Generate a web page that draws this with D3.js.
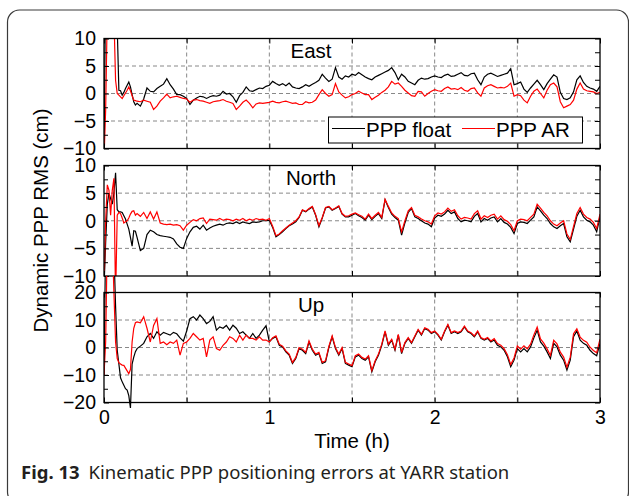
<!DOCTYPE html>
<html>
<head>
<meta charset="utf-8">
<script src="https://d3js.org/d3.v7.min.js"></script>
<style>
  body { margin: 0; background: #fff; }
  svg { display: block; }
</style>
</head>
<body>
<div id="chartHere"></div>
<script>

// sample times (h): every 0.01 h up to 0.2 h, then every 0.02 h
var hours = d3.range(0, 0.2001, 0.01).concat(d3.range(0.22, 3.0001, 0.02));

// values in cm
var eastFloat = [
  -12, 20, 25, 25, 25, 25, 25, 25, 12, 0.6, 0.5,
  -0.3, 0.2, 0.9, 1.5, 2.1, 1.2, -0.2, -1.5, -2.1, -1.8,
  -2.3, -1.0, 1.0, 0.4, 0.3, 0.9, 1.3, 1.7, 2.7, 1.6,
  0.8, -0.2, -0.2, -0.5, -0.9, -2.0, -1.2, -0.8, -0.5, -0.6,
  -0.9, -0.6, -0.4, -0.5, -0.3, 0.4, -0.1, 0.0, -0.6, -1.6,
  -0.4, 0.2, 1.2, 0.5, 0.4, 0.7, 1.0, 0.9, 1.3, 1.5,
  2.2, 1.8, 1.5, 1.8, 1.4, 1.9, 1.2, 1.0, 0.9, 1.2,
  1.6, 1.3, 1.7, 2.0, 2.4, 3.5, 2.8, 2.2, 2.6, 4.7,
  3.0, 2.6, 3.2, 3.0, 3.5, 3.3, 3.8, 3.4, 3.0, 2.7,
  2.5, 3.0, 3.3, 3.6, 3.9, 4.2, 4.7, 3.8, 2.5, 3.5,
  3.0, 2.2, 1.9, 1.6, 2.4, 2.8, 2.6, 2.7, 3.0, 3.2,
  3.0, 2.9, 3.3, 3.5, 3.1, 3.2, 3.5, 3.8, 3.3, 3.2,
  3.6, 3.7, 2.5, 1.6, 3.0, 3.5, 3.7, 3.4, 3.1, 3.3,
  3.5, 3.7, 4.5, 1.6, 1.8, 2.1, 0.8, 0.2, 1.0, 1.7,
  2.4, 1.6, 0.7, 1.8, 2.6, 3.4, 3.0, 0.2, -0.9, -1.1,
  -0.8, 0.3, 2.5, 3.2, 2.0, 1.3, 1.0, 0.8, 0.4, 1.3
];
var eastAR = [
  -12, -3, 15, 25, 25, 25, 14, 2.4, 0.0, -0.3, -0.6,
  -0.9, -0.4, 0.1, 0.6, 1.2, 0.5, -0.4, -1.2, -1.3, -1.4,
  -1.5, -1.2, -1.4, -1.6, -2.9, -2.3, -1.4, -0.8, -0.1, -0.8,
  -0.6, -0.5, -0.7, -0.9, -1.0, -1.6, -1.2, -1.1, -1.3, -1.4,
  -1.6, -1.8, -1.5, -1.4, -1.3, -1.1, -1.4, -1.6, -1.8, -2.9,
  -2.3, -1.6, -1.2, -1.8, -2.6, -1.9, -1.7, -1.8, -1.7, -1.6,
  -1.4, -1.6, -1.7, -1.5, -1.4, -1.6, -1.8, -1.7, -2.0, -2.0,
  -1.5, -1.7, -1.6, -1.2, -0.2, 0.7, 0.0, -0.5, -0.2, 1.8,
  0.3, -0.3, -0.8, -0.6, -0.2, 0.0, 0.4, 0.1, -0.2, -0.2,
  -1.1, -0.7, -0.3, 0.2, 0.6, 1.2, 2.2, 1.7, 1.9, 1.3,
  0.6, 0.1, -0.4, -0.5, 0.4, 0.3, -0.5, 0.0, 0.4, 0.7,
  0.5, 0.4, 0.9, 1.2, 0.8, 0.9, 0.7, 1.1, 0.6, 0.4,
  0.9, 1.0, 0.1, -0.5, 1.0, 1.4, 1.6, 1.3, 1.0, 1.1,
  1.0, 1.3, 1.9, -0.5, -0.2, -0.4, -1.2, -1.7, -0.5, 0.4,
  0.8, 0.0, -0.8, 0.6, 1.6, 1.9, 1.2, -1.5, -2.6, -2.3,
  -2.0, -1.2, 0.8, 1.9, 0.8, 0.5, 0.4, 0.3, 0.0, 0.2
];
var northFloat = [
  -12, -4, 3, 5, 4, 3, 5, 8.7, 2, 1.6, 1.6,
  1.5, 0.9, 0.3, -0.6, -1.5, -3.0, -4.6, -1.8, -1.9, -3.0,
  -5.4, -5.0, -2.5, -1.7, -2.0, -2.5, -2.7, -2.8, -2.9, -3.0,
  -3.3, -4.2, -4.8, -5.0, -3.2, -2.0, -1.2, -1.0, -1.5, -0.8,
  -1.7, -1.3, -1.0, -0.8, -0.6, -0.8, -0.5, -0.4, -0.5, -0.2,
  -0.5, -0.2, -0.4, -0.5, -0.2, -0.3, -0.2, 0.0, 0.0, 0.1,
  -1.2, -2.9, -2.5, -2.0, -1.4, -0.9, -0.6, -0.2, 0.6, 1.9,
  1.6, 2.1, 2.5, 1.0, -1.1, 0.5, 2.3, 2.5, 1.9, 2.2,
  2.6, 1.2, 0.7, 0.7, 1.0, 1.3, 0.9, 0.6, 0.1, 1.0,
  0.2, 0.8, 1.3, 0.4, 3.8, 2.4, 1.2, 0.6, 0.1, -2.6,
  -0.4, 1.5, 2.2, 0.7, 0.4, 0.0, -0.4, -0.6, -1.1, 0.5,
  1.0, 0.8, 1.2, 1.9, 1.3, 1.6, 0.4, -0.2, 0.1, 0.0,
  -0.2, 0.8, 1.3, -0.2, 0.4, 0.1, 0.5, 0.7, -0.2, 0.4,
  -0.3, -0.6, -1.2, -2.3, -0.5, -0.2, -0.3, -0.5, 0.1, 0.7,
  2.5, 1.8, 1.0, 0.4, -0.5, -1.1, -1.4, -0.9, -0.5, -2.9,
  -3.8, -1.5, 0.8, 1.9, 0.7, 0.1, -0.2, -0.8, -2.0, 0.7
];
var northAR = [
  -12, 0, 6.5, 5.5, 1.0, 5.5, 7.7, -14, 1.0, 1.5, 1.3,
  0.5, -0.4, -0.2, 0.0, 0.5, 1.2, 1.7, 1.8, 1.0, 1.3,
  0.8, 1.5, 0.4, 1.6, 0.3, 1.6, -0.4, -0.6, -0.7, -0.6,
  -0.8, -0.7, -0.9, -1.7, -0.8, -0.3, 0.2, 0.0, 0.4, 0.5,
  -0.5, 0.3, 0.2, 0.1, 0.4, 0.1, 0.3, 0.2, 0.0, 0.3,
  0.1, 0.4, 0.0, 0.3, 0.1, 0.4, 0.2, 0.3, 0.1, 0.4,
  -1.0, -2.7, -2.4, -1.8, -1.3, -0.8, -0.4, 0.0, 0.7, 2.0,
  1.7, 2.2, 2.6, 1.1, -0.9, 0.6, 2.4, 2.6, 2.0, 2.3,
  2.7, 1.3, 0.8, 0.9, 1.2, 1.4, 1.1, 0.8, 0.3, 1.2,
  0.4, 1.0, 1.5, 0.6, 3.9, 2.6, 1.4, 0.8, 0.4, -2.0,
  0.0, 1.8, 2.4, 1.0, 0.7, 0.3, 0.0, -0.2, -0.6, 0.9,
  1.4, 1.2, 1.6, 2.3, 1.7, 2.0, 0.9, 0.3, 0.6, 0.5,
  0.3, 1.3, 1.8, 0.3, 0.9, 0.6, 1.0, 1.2, 0.3, 0.9,
  0.2, -0.1, -0.7, -1.8, 0.0, 0.3, 0.2, 0.0, 0.6, 1.2,
  3.0, 2.3, 1.5, 0.9, 0.0, -0.6, -0.9, -0.4, 0.0, -2.4,
  -3.4, -1.0, 1.3, 2.4, 1.2, 0.6, 0.3, -0.3, -1.4, 1.2
];
var upFloat = [
  -10, 40, 40, 40, 40, 40, 35, 15, -1, -6, -11,
  -12.5, -13.7, -15, -15.5, -17.5, -22, -6, -3.5, -1.5, -0.4,
  0.5, 1.5, 3.9, 5.1, 3.3, 5.7, 4.5, 5.5, 5.0, 4.5,
  5.5, 5.0, 3.5, 2.3, 6.0, 10.5, 11.2, 10.0, 11.8, 10.5,
  8.7, 9.5, 11.2, 6.3, 7.5, 7.0, 8.0, 6.3, 8.1, 7.0,
  5.1, 5.7, 4.5, 3.3, 5.1, 3.3, 4.5, 6.3, 7.9, 2.1,
  3.3, 3.9, 0.8, 0.2, -1.6, -2.8, -5.8, -4.0, -0.4, -1.0,
  -2.2, 2.0, -1.0, -2.8, -2.2, -5.8, -5.2, 0.0, 3.9, -0.4,
  -2.8, -0.4, -5.8, -6.4, -7.0, -3.4, -2.8, -4.0, -4.6, -3.4,
  -8.8, -5.2, -2.8, 0.8, 5.7, 0.8, 2.7, -1.0, 4.5, -2.2,
  1.5, 3.3, 1.5, 3.9, 6.3, 4.5, 6.9, 6.3, 5.1, 5.7,
  4.5, 2.7, 5.7, 8.1, 5.1, 5.7, 5.1, 5.7, 7.5, 5.7,
  5.1, 3.9, 5.7, 3.3, 2.7, 3.3, 2.0, 2.7, 0.8, 0.2,
  -1.0, -3.4, -7.0, -4.6, -0.4, -1.6, -0.4, -1.6, 0.2, 3.5,
  6.3, 2.0, 0.5, -1.6, -4.0, 1.5, 0.2, -2.8, -4.6, -8.2,
  -4.6, 3.9, 6.0, 2.7, 1.5, 0.8, -1.0, -2.2, -3.0, 1.5
];
var upAR = [
  -10, 2, 40, 40, 40, 40, 20, 2, -4, -5.5, -6,
  -6.4, -6.5, -7.5, -8.5, -9.5, -8, 2, 7, 9, 9.3,
  9.0, 11.2, 7.0, 2.0, 8.0, 10.5, 1.5, 2.0, 1.0, 2.0,
  1.5, 2.7, -2.8, 1.5, 2.0, 3.3, 5.1, 3.9, 2.7, 3.3,
  -3.4, 2.7, 3.9, -0.4, -1.0, 0.8, 2.0, 3.9, 3.3, 2.0,
  4.5, 2.7, 4.5, 3.3, 3.3, 2.7, 3.9, 2.7, 2.7, 2.0,
  3.6, 4.2, 1.2, 0.5, -1.2, -2.4, -5.4, -3.6, 0.0, -0.6,
  -1.8, 2.4, -0.6, -2.4, -1.8, -5.4, -4.8, 0.4, 4.2, 0.0,
  -2.4, 0.0, -5.4, -6.0, -6.6, -3.0, -2.4, -3.6, -4.2, -3.0,
  -8.4, -4.8, -2.4, 1.2, 6.0, 1.2, 3.0, -0.6, 4.8, -1.8,
  1.8, 3.6, 1.8, 4.2, 6.6, 4.8, 7.2, 6.6, 5.4, 6.0,
  4.8, 3.0, 6.0, 8.4, 5.4, 6.0, 5.4, 6.0, 7.8, 6.0,
  5.4, 4.2, 6.0, 3.6, 3.0, 3.6, 2.4, 3.2, 1.4, 0.8,
  -0.4, -2.6, -6.2, -3.8, 0.6, -0.6, 0.6, -0.5, 1.2, 4.6,
  7.4, 3.1, 1.6, -0.5, -2.9, 2.6, 1.3, -1.7, -3.5, -7.2,
  -3.5, 5.0, 6.8, 3.8, 2.6, 1.9, 0.1, -1.1, -1.9, 3.0
];

var panelNames = ["East", "North", "Up"];
var floatSeries = [eastFloat, northFloat, upFloat];
var arSeries = [eastAR, northAR, upAR];
var yDomains = [[-10, 10], [-10, 10], [-20, 20]];
var yTickLabels = [[10, 5, 0, -5, -10], [10, 5, 0, -5, -10], [20, 10, 0, -10, -20]];
var yMinorTicks = [[7.5, 2.5, -2.5, -7.5], [7.5, 2.5, -2.5, -7.5], [15, 5, -5, -15]];
var xTickLabels = [0, 1, 2, 3];
var xTicks = [0, 0.5, 1, 1.5, 2, 2.5, 3];
var legendNames = ["PPP float", "PPP AR"];

var dims = {width: 629, height: 496};
var plotLeft = 104, plotRight = 600;
var panelTop = [38.5, 165.5, 292.5];
var panelBottom = [148.5, 276, 402.5];
// Up's traces run past its frame in the figure, so it clips looser
var clipTop = [38.5, 165.5, 276];
var clipBottom = [148.5, 276, 420];
var fontSize = 20.5;
var tickFontSize = 19.5;
var font = "'Liberation Sans', Arial, sans-serif";

var svg = d3.select("#chartHere").append("svg")
    .attr("width", dims.width)
    .attr("height", dims.height);

// outer figure box
svg.append("rect")
    .attr("x", 7.5).attr("y", 10)
    .attr("width", 621).attr("height", 494)
    .attr("rx", 12)
    .attr("fill", "none")
    .attr("stroke", "#3a3a3a")
    .attr("stroke-width", 1.2);

var xScale = d3.scaleLinear().domain([0, 3]).range([plotLeft, plotRight]);

for (var p = 0; p < 3; p++) {
  var yScale = d3.scaleLinear().domain(yDomains[p]).range([panelBottom[p], panelTop[p]]);
  var g = svg.append("g");

  // dashed grid
  g.selectAll("line.gx").data(xTicks.slice(1, -1)).enter().append("line")
      .attr("x1", d => xScale(d)).attr("x2", d => xScale(d))
      .attr("y1", panelTop[p]).attr("y2", panelBottom[p])
      .attr("stroke", "#7a7a7a").attr("stroke-width", 0.9)
      .attr("stroke-dasharray", "4,3");
  g.selectAll("line.gy").data(yTickLabels[p].slice(1, -1)).enter().append("line")
      .attr("x1", plotLeft).attr("x2", plotRight)
      .attr("y1", d => yScale(d)).attr("y2", d => yScale(d))
      .attr("stroke", "#7a7a7a").attr("stroke-width", 0.9)
      .attr("stroke-dasharray", "4,3");

  // traces
  var clipId = "clip" + p;
  svg.append("clipPath").attr("id", clipId).append("rect")
      .attr("x", plotLeft).attr("y", clipTop[p])
      .attr("width", plotRight - plotLeft).attr("height", clipBottom[p] - clipTop[p]);

  var line = d3.line()
      .x((d, i) => xScale(hours[i]))
      .y(d => yScale(d));

  g.append("path").datum(floatSeries[p])
      .attr("clip-path", "url(#" + clipId + ")")
      .attr("d", line)
      .attr("fill", "none").attr("stroke", "#000").attr("stroke-width", 1.2);
  g.append("path").datum(arSeries[p])
      .attr("clip-path", "url(#" + clipId + ")")
      .attr("d", line)
      .attr("fill", "none").attr("stroke", "#ff0000").attr("stroke-width", 1.2);

  // axes with inward ticks
  g.append("g")
      .attr("transform", "translate(" + plotLeft + ",0)")
      .call(d3.axisLeft(yScale).tickValues(yTickLabels[p]).tickSize(-5).tickPadding(8));
  g.append("g")
      .attr("transform", "translate(" + plotLeft + ",0)")
      .call(d3.axisLeft(yScale).tickValues(yMinorTicks[p]).tickSize(-4).tickFormat(""));
  g.append("g")
      .attr("transform", "translate(" + plotRight + ",0)")
      .call(d3.axisRight(yScale).tickValues(yTickLabels[p].concat(yMinorTicks[p])).tickSize(-5).tickFormat(""));
  g.append("g")
      .attr("transform", "translate(0," + panelTop[p] + ")")
      .call(d3.axisTop(xScale).tickValues(xTicks).tickSize(-5).tickFormat(""));
  g.append("g")
      .attr("transform", "translate(0," + panelBottom[p] + ")")
      .call(d3.axisBottom(xScale).tickValues(xTicks).tickSize(-5).tickPadding(8)
        .tickFormat(d => (p === 2 && xTickLabels.indexOf(d) >= 0) ? d : ""));

  g.selectAll(".domain").remove();
  g.selectAll(".tick line").attr("stroke", "#000").attr("stroke-width", 1);
  g.selectAll(".tick text")
      .attr("font-size", tickFontSize).attr("font-family", font).attr("fill", "#000");

  // frame
  g.append("rect")
      .attr("x", plotLeft).attr("y", panelTop[p])
      .attr("width", plotRight - plotLeft).attr("height", panelBottom[p] - panelTop[p])
      .attr("fill", "none").attr("stroke", "#000").attr("stroke-width", 1.3);

  // panel title
  g.append("text")
      .attr("x", 311).attr("y", panelTop[p] + 19)
      .attr("text-anchor", "middle")
      .attr("font-size", fontSize).attr("font-family", font)
      .text(panelNames[p]);
}

// legend in the East panel
var lg = svg.append("g");
lg.append("rect")
    .attr("x", 328.5).attr("y", 117)
    .attr("width", 254).attr("height", 26)
    .attr("fill", "#fff").attr("stroke", "#000").attr("stroke-width", 1);
var legendColors = ["#000", "#ff0000"];
var legendX = [332, 462];
legendNames.forEach(function (name, i) {
  lg.append("line")
      .attr("x1", legendX[i]).attr("x2", legendX[i] + 33)
      .attr("y1", 128.5).attr("y2", 128.5)
      .attr("stroke", legendColors[i]).attr("stroke-width", 1.2);
  lg.append("text")
      .attr("x", legendX[i] + 34).attr("y", 137)
      .attr("font-size", fontSize).attr("font-family", font)
      .text(name);
});

// axis titles
svg.append("text")
    .attr("x", (plotLeft + plotRight) / 2).attr("y", 448)
    .attr("text-anchor", "middle")
    .attr("font-size", fontSize).attr("font-family", font)
    .text("Time (h)");
svg.append("text")
    .attr("transform", "translate(48," + ((panelTop[0] + panelBottom[2]) / 2) + ") rotate(-90)")
    .attr("text-anchor", "middle")
    .attr("font-size", fontSize).attr("font-family", font)
    .text("Dynamic PPP RMS (cm)");

// caption
var cap = svg.append("text")
    .attr("x", 21).attr("y", 479)
    .attr("font-size", 18.5).attr("font-family", "'Noto Sans', 'Open Sans', sans-serif")
    .attr("fill", "#231f20");
cap.append("tspan").attr("font-weight", "bold").text("Fig. 13");
cap.append("tspan").attr("dx", 9).text("Kinematic PPP positioning errors at YARR station");

</script>
</body>
</html>
